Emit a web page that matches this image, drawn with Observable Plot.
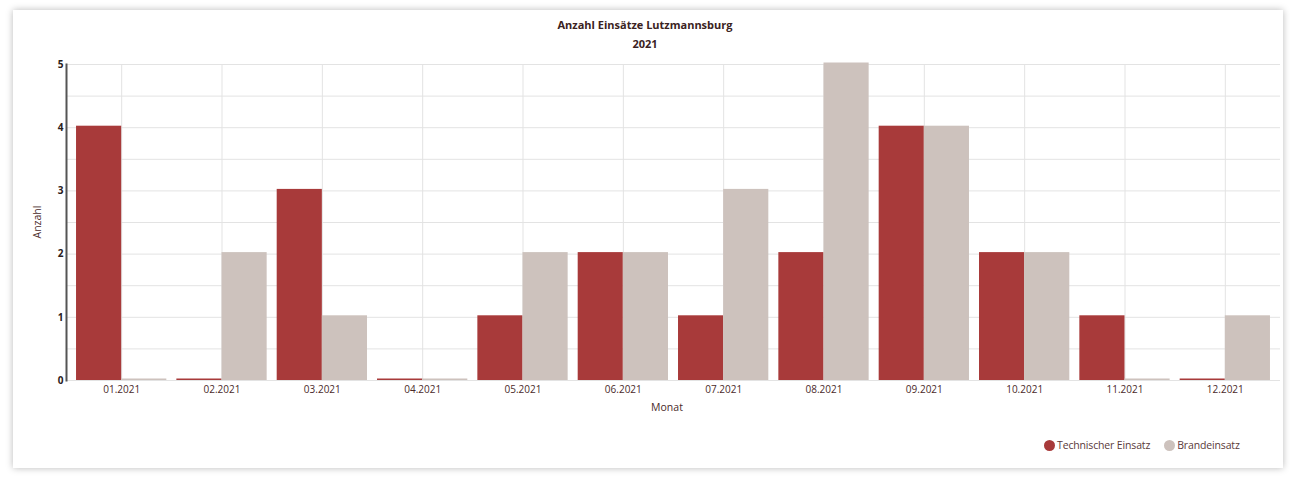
<!DOCTYPE html>
<html><head><meta charset="utf-8">
<script src="https://cdn.jsdelivr.net/npm/d3@7"></script>
<script src="https://cdn.jsdelivr.net/npm/@observablehq/plot@0.6"></script>
<style>
html,body{margin:0;padding:0;background:#fff;}
#wrap{position:relative;width:1290px;height:477px;overflow:hidden;font-family:"Open Sans",sans-serif;}
#card{position:absolute;left:13px;top:10px;width:1270px;height:458px;background:#fff;box-shadow:0 0 7px rgba(0,0,0,0.28);}
.t{position:absolute;left:0;width:1290px;text-align:center;font-weight:bold;font-size:11px;color:#3a2222;}
#chart{position:absolute;left:0;top:56px;}
#ylab{position:absolute;left:37px;top:222px;transform:translate(-50%,-50%) rotate(-90deg);font-size:10.5px;color:#4a2a2a;}
#xlab{position:absolute;left:667px;top:407px;transform:translate(-50%,-50%);font-size:10.5px;color:#4a2a2a;}
#legend{position:absolute;top:438px;left:1044px;font-size:10.5px;color:#5a3a3a;display:flex;align-items:center;letter-spacing:-0.15px;}
.dot{display:inline-block;width:11px;height:11px;border-radius:50%;margin-right:2px;}
</style></head>
<body>
<div id="wrap">
<div id="card"></div>
<div class="t" style="top:17px">Anzahl Einsätze Lutzmannsburg</div>
<div class="t" style="top:36px">2021</div>
<div id="chart"></div>
<div id="ylab">Anzahl</div>
<div id="xlab">Monat</div>
<div id="legend"></div>
</div>
<script>
const months = ["01.2021","02.2021","03.2021","04.2021","05.2021","06.2021","07.2021","08.2021","09.2021","10.2021","11.2021","12.2021"];
const technischer = [4,0,3,0,1,2,1,2,4,2,1,0];
const brand = [0,2,1,0,2,2,3,5,4,2,0,1];
const seriesNames = ["Technischer Einsatz","Brandeinsatz"];
const seriesColors = ["#a83a3a","#cdc2bd"];
const yTicks = [0,1,2,3,4,5];

const tech = months.map((m,i)=>({month:m, value:technischer[i]}));
const br = months.map((m,i)=>({month:m, value:brand[i]}));

const W = 1290, H = 359, mL = 66, mR = 10;
const step = (W - mL - mR) / (months.length - 0.1 + 0.2);
const half = step * 0.9 / 2;

const plot = Plot.plot({
  width: W, height: H,
  marginLeft: mL, marginRight: mR, marginTop: 8, marginBottom: 35,
  style: {fontFamily: "'Open Sans', sans-serif", background: "transparent"},
  x: {domain: months, paddingInner: 0.1, paddingOuter: 0.1, round: false, label: null},
  y: {domain: [0,5], label: null},
  marks: [
    Plot.gridY(d3.range(0, 5.01, 0.5), {stroke: "#e3e3e3", strokeOpacity: 1}),
    Plot.gridX(months, {stroke: "#e3e3e3", strokeOpacity: 1}),
    Plot.barY(tech, {x: "month", y: "value", fill: seriesColors[0], insetRight: half, insetTop: -1.5}),
    Plot.barY(br, {x: "month", y: "value", fill: seriesColors[1], insetLeft: half, insetTop: -1.5}),
    Plot.axisX({tickSize: 0, tickPadding: 5, fontSize: 10, fill: "#4a2a2a"}),
    Plot.axisY({ticks: yTicks, tickSize: 0, tickPadding: 3, fontSize: 10, fontWeight: "bold", fill: "#2a2020", tickFormat: d3.format("d")}),
    Plot.frame({anchor: "left", stroke: "#555", strokeWidth: 2})
  ]
});
document.getElementById("chart").appendChild(plot);

const lg = document.getElementById("legend");
seriesNames.forEach((n,i)=>{
  const s = document.createElement("span");
  s.style.display = "inline-flex"; s.style.alignItems = "center"; s.style.marginRight = "14px";
  s.innerHTML = `<span class="dot" style="background:${seriesColors[i]}"></span>${n}`;
  lg.appendChild(s);
});
</script>
</body></html>
